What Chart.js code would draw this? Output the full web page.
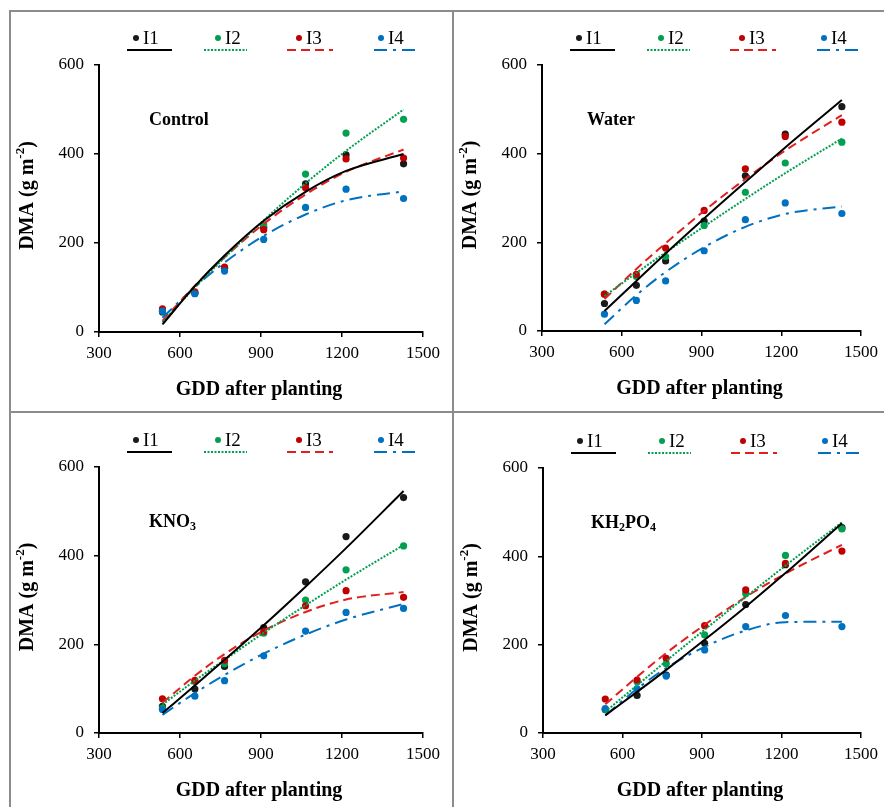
<!DOCTYPE html>
<html>
<head>
<meta charset="utf-8">
<script src="https://cdn.jsdelivr.net/npm/chart.js@4.4.1/dist/chart.umd.min.js"></script>
<style>
  body { margin: 0; background: #fff; }
  #page { position: relative; width: 884px; height: 807px; overflow: hidden; background: #fff; }
  .rule { position: absolute; background: #8c8c8c; }
  canvas { position: absolute; }
</style>
</head>
<body>
<div id="page">
  <div class="rule" style="left:9px;top:10px;width:875px;height:2px"></div>
  <div class="rule" style="left:9px;top:10px;width:2px;height:797px"></div>
  <div class="rule" style="left:452px;top:10px;width:2px;height:797px"></div>
  <div class="rule" style="left:9px;top:411px;width:875px;height:2px"></div>
  <canvas id="c-control" width="441" height="399" style="left:11px;top:12px"></canvas>
  <canvas id="c-water" width="429" height="399" style="left:455px;top:12px"></canvas>
  <canvas id="c-kno3" width="441" height="393" style="left:11px;top:414px"></canvas>
  <canvas id="c-kh2po4" width="429" height="393" style="left:455px;top:414px"></canvas>
</div>
<script>
// GDD after planting (x positions of the samplings)
const gdd = [535, 655, 765, 910, 1065, 1215, 1428];
const seriesNames = ['I1', 'I2', 'I3', 'I4'];
const xTicks = [300, 600, 900, 1200, 1500];
const yTicks = [0, 200, 400, 600];

// observed DMA (g m-2), one row per irrigation level I1..I4
const controlPts = [
    [45, 87, 143, 235, 333, 398, 378],
    [47, 88, 144, 241, 355, 447, 478],
    [52, 90, 146, 230, 324, 389, 391],
    [47, 86, 137, 208, 280, 321, 300]
];
const waterPts = [
    [62, 103, 158, 248, 350, 444, 506],
    [83, 123, 168, 238, 313, 379, 426],
    [83, 128, 187, 272, 366, 439, 471],
    [38, 69, 113, 181, 251, 289, 265]
];
const kno3Pts = [
    [60, 99, 150, 238, 341, 443, 531],
    [56, 116, 156, 225, 300, 368, 422],
    [77, 119, 164, 229, 287, 321, 306],
    [53, 83, 118, 174, 230, 272, 281]
];
const kh2po4Pts = [
    [53, 85, 131, 203, 291, 381, 465],
    [53, 116, 157, 222, 316, 402, 462],
    [77, 120, 169, 243, 324, 384, 412],
    [55, 100, 129, 188, 241, 266, 241]
];

// trend curves at the same GDD positions
const controlFit = [
    [17, 103, 172, 250, 315, 362, 400],
    [22, 100, 167, 251, 334, 407, 500],
    [25, 104, 168, 243, 309, 360, 410],
    [32, 101, 156, 216, 264, 296, 316]
];
const waterFit = [
    [45, 113, 175, 254, 336, 414, 521],
    [79, 131, 177, 236, 298, 356, 434],
    [72, 140, 198, 271, 343, 407, 487],
    [15, 81, 133, 189, 235, 264, 281]
];
const kno3Fit = [
    [45, 107, 165, 243, 330, 417, 546],
    [64, 118, 165, 226, 288, 346, 424],
    [68, 129, 178, 231, 273, 301, 318],
    [41, 90, 131, 179, 222, 256, 291]
];
const kh2po4Fit = [
    [40, 93, 143, 211, 286, 362, 475],
    [48, 108, 163, 234, 308, 379, 477],
    [65, 127, 181, 245, 308, 361, 426],
    [40, 100, 147, 195, 232, 251, 252]
];

const pointColors = ['#1a1a1a', '#00a050', '#c00000', '#0070c0'];
const lineColors = ['#000000', '#00a050', '#e0201e', '#0070c0'];
const lineDashes = [[], [2, 1.5], [9, 5], [13, 6, 3, 6]];

const SERIF = '"Liberation Serif", "Times New Roman", serif';

// legend slots, relative to the plot's left edge
const legendSlots = [
    { dot: 37, lineFrom: 28, lineTo: 73 },
    { dot: 119, lineFrom: 105, lineTo: 148 },
    { dot: 200, lineFrom: 188, lineTo: 234 },
    { dot: 282, lineFrom: 275, lineTo: 318 }
];

function drawRuns(ctx, runs, x, y) {
    runs.forEach(r => {
        ctx.font = r.font;
        ctx.fillText(r.text, x, y + r.dy);
        x += ctx.measureText(r.text).width;
    });
}

function runsWidth(ctx, runs) {
    let w = 0;
    runs.forEach(r => {
        ctx.font = r.font;
        w += ctx.measureText(r.text).width;
    });
    return w;
}

const panelDecor = {
    id: 'panelDecor',
    afterDraw(chart, args, opts) {
        const ctx = chart.ctx;
        const a = chart.chartArea;
        ctx.save();
        ctx.fillStyle = '#000';
        ctx.textBaseline = 'middle';
        ctx.textAlign = 'left';

        // legend: dot + name above a sample of the trend line
        seriesNames.forEach((name, i) => {
            const slot = legendSlots[i];
            ctx.fillStyle = pointColors[i];
            ctx.beginPath();
            ctx.arc(a.left + slot.dot, a.top - 27, 3, 0, Math.PI * 2);
            ctx.fill();
            ctx.fillStyle = '#000';
            ctx.font = '19px ' + SERIF;
            ctx.fillText(name, a.left + slot.dot + 7, a.top - 26);
            ctx.strokeStyle = lineColors[i];
            ctx.lineWidth = 2;
            ctx.setLineDash(lineDashes[i]);
            ctx.beginPath();
            ctx.moveTo(a.left + slot.lineFrom, a.top - 15);
            ctx.lineTo(a.left + slot.lineTo, a.top - 15);
            ctx.stroke();
        });
        ctx.setLineDash([]);

        // panel label, digits as subscripts
        const labelRuns = [];
        opts.label.split(/(\d)/).filter(s => s).forEach(s => {
            if (/\d/.test(s)) labelRuns.push({ text: s, font: 'bold 12px ' + SERIF, dy: 5 });
            else labelRuns.push({ text: s, font: 'bold 18px ' + SERIF, dy: 0 });
        });
        drawRuns(ctx, labelRuns, a.left + opts.labelDx, a.top + 55);

        // x axis title
        ctx.font = 'bold 20px ' + SERIF;
        ctx.textAlign = 'center';
        ctx.fillText('GDD after planting', (a.left + a.right) / 2 - 2, a.bottom + 58);

        // y axis title with superscript
        ctx.textAlign = 'left';
        const yRuns = [
            { text: 'DMA (g m', font: 'bold 20px ' + SERIF, dy: 0 },
            { text: '-2', font: 'bold 13px ' + SERIF, dy: -7 },
            { text: ')', font: 'bold 20px ' + SERIF, dy: 0 }
        ];
        ctx.translate(a.left - 71, (a.top + a.bottom) / 2 - 3);
        ctx.rotate(-Math.PI / 2);
        drawRuns(ctx, yRuns, -runsWidth(ctx, yRuns) / 2, 0);
        ctx.restore();
    }
};

function makeChart(canvasId, label, labelDx, pts, fits, pad) {
    const datasets = [];
    seriesNames.forEach((name, i) => {
        datasets.push({
            label: name + ' trend',
            data: gdd.map((x, j) => ({ x: x, y: fits[i][j] })),
            showLine: true,
            pointRadius: 0,
            borderColor: lineColors[i],
            borderWidth: 2,
            borderDash: lineDashes[i],
            cubicInterpolationMode: 'monotone',
            order: 0
        });
    });
    seriesNames.forEach((name, i) => {
        datasets.push({
            label: name,
            data: gdd.map((x, j) => ({ x: x, y: pts[i][j] })),
            showLine: false,
            pointRadius: 3.6,
            pointBackgroundColor: pointColors[i],
            pointBorderWidth: 0,
            order: 4 - i
        });
    });

    const tickFont = { family: SERIF, size: 17 };
    return new Chart(document.getElementById(canvasId), {
        type: 'scatter',
        data: { datasets: datasets },
        options: {
            responsive: false,
            animation: false,
            layout: { padding: pad },
            scales: {
                x: {
                    type: 'linear',
                    min: xTicks[0],
                    max: xTicks[xTicks.length - 1],
                    afterFit: s => { s.height = 35; },
                    afterBuildTicks: s => { s.ticks = xTicks.map(v => ({ value: v })); },
                    ticks: { color: '#000', font: tickFont, padding: 6, autoSkip: false, maxRotation: 0, callback: v => String(v) },
                    grid: { drawOnChartArea: false, drawTicks: true, tickLength: 5, color: '#000', lineWidth: 1.5 },
                    border: { display: true, color: '#000', width: 2 }
                },
                y: {
                    min: yTicks[0],
                    max: yTicks[yTicks.length - 1],
                    afterFit: s => { s.width = 45; },
                    afterBuildTicks: s => { s.ticks = yTicks.map(v => ({ value: v })); },
                    ticks: { color: '#000', font: tickFont, padding: 10, callback: v => String(v) },
                    grid: { drawOnChartArea: false, drawTicks: true, tickLength: 5, color: '#000', lineWidth: 1.5 },
                    border: { display: true, color: '#000', width: 2 }
                }
            },
            plugins: {
                legend: { display: false },
                tooltip: { enabled: false },
                panelDecor: { label: label, labelDx: labelDx }
            }
        },
        plugins: [panelDecor]
    });
}

makeChart('c-control', 'Control', 50, controlPts, controlFit, { left: 43, right: 29, top: 53, bottom: 44 });
makeChart('c-water', 'Water', 45, waterPts, waterFit, { left: 42, right: 18, top: 53, bottom: 45 });
makeChart('c-kno3', 'KNO3', 50, kno3Pts, kno3Fit, { left: 43, right: 29, top: 53, bottom: 39 });
makeChart('c-kh2po4', 'KH2PO4', 48, kh2po4Pts, kh2po4Fit, { left: 43, right: 17, top: 54, bottom: 39 });
</script>
</body>
</html>
